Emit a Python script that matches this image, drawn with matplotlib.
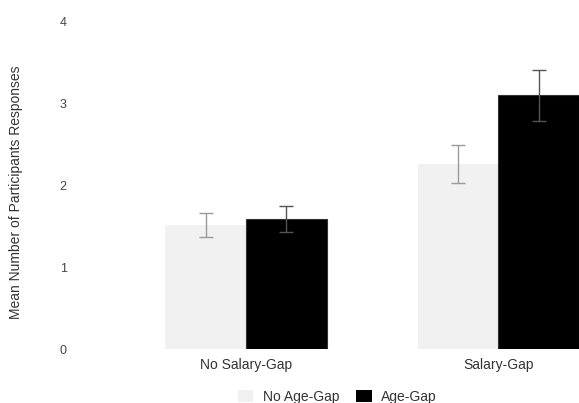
import numpy as np
import matplotlib.pyplot as plt
from matplotlib.patches import Patch

plt.rcParams['font.family'] = ['Liberation Sans', 'DejaVu Sans']

groups = ['No Salary-Gap', 'Salary-Gap']
series = ['No Age-Gap', 'Age-Gap']
no_age_gap = [1.52, 2.26]
no_age_gap_err = [0.15, 0.23]
age_gap = [1.59, 3.10]
age_gap_err = [0.16, 0.31]
yticks = [0, 1, 2, 3, 4]

fig = plt.figure(figsize=(5.79, 4.03), dpi=100)
ax = fig.add_axes([0.1295, 0.1328, 0.8705, 0.8139])

x = np.arange(len(groups))
w = 0.32
ax.bar(x - w/2, no_age_gap, w, color='#f1f1f1', linewidth=0)
ax.errorbar(x - w/2, no_age_gap, yerr=no_age_gap_err, fmt='none',
            ecolor='#9a9a9a', elinewidth=1.0, capsize=5.3, capthick=1.0)
ax.bar(x + w/2, age_gap, w, color='black', edgecolor='#333333', linewidth=0.8)
ax.errorbar(x + w/2, age_gap, yerr=age_gap_err, fmt='none',
            ecolor='#555555', elinewidth=1.0, capsize=5.3, capthick=1.0)

ax.set_xlim(-0.677, 1.319)
ax.set_ylim(0, 4)
ax.set_xticks(x)
ax.set_xticklabels(groups, fontsize=10, color='#333333')
ax.set_yticks(yticks)
ax.set_yticklabels([str(t) for t in yticks], fontsize=9, color='#444444')
ax.tick_params(axis='both', length=0)
ax.tick_params(axis='x', pad=6)
ax.tick_params(axis='y', pad=6)
for s in ax.spines.values():
    s.set_visible(False)

fig.text(16/579, 1 - 192/403, 'Mean Number of Participants Responses',
         rotation=90, ha='center', va='center', fontsize=10, color='#333333')

handles = [Patch(facecolor='#f1f1f1', edgecolor='none'),
           Patch(facecolor='black', edgecolor='none')]
fig.legend(handles, series, loc='center', bbox_to_anchor=(0.583, 0.0156),
           ncol=2, frameon=False, fontsize=10, handlelength=1.1, handleheight=1.0,
           handletextpad=0.7, columnspacing=1.2, borderpad=0, labelcolor='#333333')

fig.savefig('out.png', dpi=100)
